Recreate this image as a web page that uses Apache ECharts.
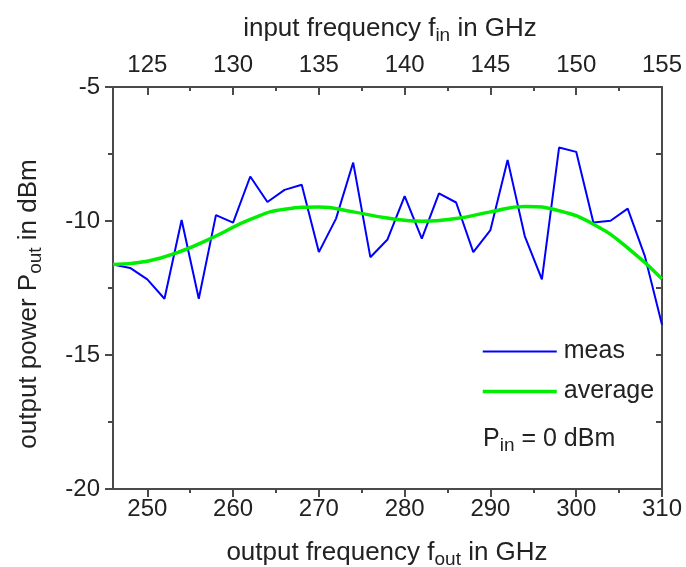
<!DOCTYPE html>
<html>
<head>
<meta charset="utf-8">
<script src="https://cdn.jsdelivr.net/npm/echarts@6/dist/echarts.min.js"></script>
<style>html,body{margin:0;padding:0;background:#fff;}#c{width:686px;height:567px;}</style>
</head>
<body>
<div id="c"></div>
<script>
// output frequency (GHz) of the measured points
var measFreq = [246,248,250,252,254,256,258,260,262,264,266,268,270,272,274,276,278,280,282,284,286,288,290,292,294,296,298,300,302,304,306,308,310];
var measPower = [-11.62,-11.75,-12.18,-12.9,-9.96,-12.9,-9.78,-10.06,-8.34,-9.29,-8.84,-8.65,-11.16,-9.91,-7.82,-11.35,-10.69,-9.07,-10.66,-8.97,-9.31,-11.16,-10.34,-7.72,-10.56,-12.18,-7.26,-7.42,-10.06,-9.99,-9.54,-11.31,-13.87];
var avgFreq = [246,250,254,258,262,266,270,274,278,282,286,290,294,298,302,306,310];
var avgPower = [-11.62,-11.5,-11.12,-10.56,-9.94,-9.56,-9.48,-9.66,-9.89,-10.01,-9.91,-9.66,-9.46,-9.62,-10.12,-11.0,-12.16];
var bottomMajorTicks = [250,260,270,280,290,300,310];
var bottomMinorTicks = [255,265,275,285,295,305];
var seriesNames = ['meas','average'];

var FONT = '"Liberation Sans", Arial, sans-serif';
var TXT = '#222';
var AX = '#4a4a4a';
var BLUE = '#0000ff', GREEN = '#00ee00';
var TICKFS = 24, TITLEFS = 26, SUBFS = 19;

function pairs(xs, ys){ return xs.map(function(x,i){ return [x, ys[i]]; }); }

var chart = echarts.init(document.getElementById('c'), null, {renderer:'canvas'});
var baseX = {type:'value', min:246, max:310, gridIndex:0, splitLine:{show:false}};
function xa(o){ return Object.assign({}, baseX, o); }
function richTitle(a, s, b, fs, sfs){
  return {
    text:'{a|'+a+'}{s|'+s+'}{a|'+b+'}',
    fill:TXT,
    rich:{a:{fontSize:fs, fontFamily:FONT, fill:TXT}, s:{fontSize:sfs, fontFamily:FONT, fill:TXT, padding:[13,0,0,0]}}
  };
}

var option = {
  animation:false,
  textStyle:{fontFamily:FONT},
  grid:{left:113, top:87, width:549, height:402, containLabel:false},
  xAxis:[
    xa({position:'bottom', axisLine:{show:true, lineStyle:{color:AX, width:2}},
        axisTick:{show:true, inside:false, length:8, customValues:bottomMajorTicks, lineStyle:{color:AX, width:2}},
        axisLabel:{show:true, customValues:bottomMajorTicks, color:TXT, fontSize:TICKFS, fontFamily:FONT, margin:8}}),
    xa({position:'bottom', axisLine:{show:false},
        axisTick:{show:true, inside:false, length:4, customValues:bottomMinorTicks, lineStyle:{color:AX, width:2}},
        axisLabel:{show:false}}),
    xa({position:'top', axisLine:{show:true, lineStyle:{color:AX, width:2}},
        axisTick:{show:true, inside:true, length:8, customValues:bottomMajorTicks, lineStyle:{color:AX, width:2}},
        axisLabel:{show:true, customValues:bottomMajorTicks, color:TXT, fontSize:TICKFS, fontFamily:FONT, margin:10,
          formatter:function(v){ return String(v/2); }}}),
    xa({position:'top', axisLine:{show:false},
        axisTick:{show:true, inside:true, length:4, customValues:bottomMinorTicks, lineStyle:{color:AX, width:2}},
        axisLabel:{show:false}})
  ],
  yAxis:[
    {type:'value', position:'left', min:-20, max:-5, interval:5, splitLine:{show:false},
     axisLine:{show:true, lineStyle:{color:AX, width:2}},
     axisTick:{show:true, inside:false, length:8, lineStyle:{color:AX, width:2}},
     minorTick:{show:true, splitNumber:2, length:5, lineStyle:{color:AX, width:2}},
     axisLabel:{color:TXT, fontSize:TICKFS, fontFamily:FONT, margin:13}},
    {type:'value', position:'right', min:-20, max:-5, interval:2.5, splitLine:{show:false},
     axisLine:{show:true, lineStyle:{color:AX, width:2}},
     axisTick:{show:true, inside:true, length:6, lineStyle:{color:AX, width:2}},
     axisLabel:{show:false}}
  ],
  legend:{
    data:[
      {name:seriesNames[0], lineStyle:{color:BLUE, width:2}},
      {name:seriesNames[1], lineStyle:{color:GREEN, width:3.5}}
    ],
    orient:'vertical', left:481, top:339, padding:0,
    itemWidth:74, itemHeight:20, itemGap:15,
    itemStyle:{opacity:0},
    textStyle:{color:TXT, fontSize:25, fontFamily:FONT, padding:[0,0,0,2]}
  },
  graphic:[
    {type:'text', x:390, y:29, style:Object.assign(richTitle('input frequency f','in',' in GHz',TITLEFS,SUBFS), {align:'center', verticalAlign:'middle'})},
    {type:'text', x:387, y:553, style:Object.assign(richTitle('output frequency f','out',' in GHz',TITLEFS,SUBFS), {align:'center', verticalAlign:'middle'})},
    {type:'text', x:29, y:304, rotation:Math.PI/2, style:Object.assign(richTitle('output power P','out',' in dBm',TITLEFS,SUBFS), {align:'center', verticalAlign:'middle'})},
    {type:'text', x:483, y:439, style:Object.assign(richTitle('P','in',' = 0 dBm',25,19), {align:'left', verticalAlign:'middle'})}
  ],
  series:[
    {name:seriesNames[0], type:'line', xAxisIndex:0, yAxisIndex:0, data:pairs(measFreq, measPower),
     symbol:'none', lineStyle:{color:BLUE, width:2}, itemStyle:{color:BLUE}, z:3},
    {name:seriesNames[1], type:'line', xAxisIndex:0, yAxisIndex:0, data:pairs(avgFreq, avgPower),
     symbol:'none', smooth:0.5, lineStyle:{color:GREEN, width:3.5}, itemStyle:{color:GREEN}, z:4}
  ]
};
chart.setOption(option);
</script>
</body>
</html>
